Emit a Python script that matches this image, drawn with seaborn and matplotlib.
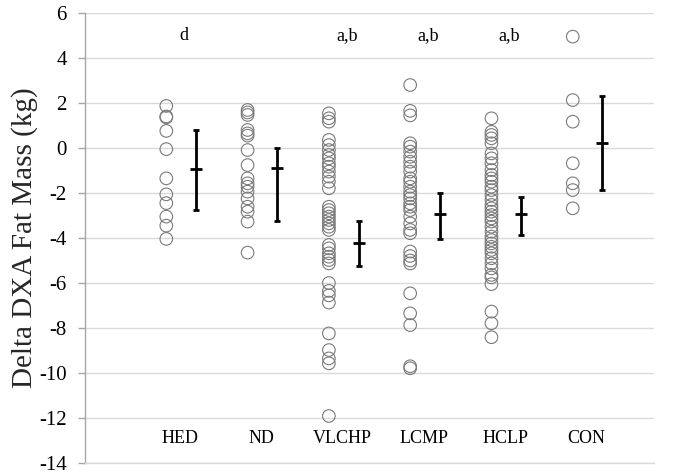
import numpy as np
import pandas as pd
import matplotlib
matplotlib.use("Agg")
import matplotlib.pyplot as plt
import seaborn as sns

# ---- data ----
groups = ["HED", "ND", "VLCHP", "LCMP", "HCLP", "CON"]
letters = ["d", "", "a,b", "a,b", "a,b", ""]

hed = [1.87, 1.4, 1.36, 0.76, -0.05, -1.35, -2.06, -2.45, -3.05, -3.45, -4.04]
nd = [1.69, 1.58, 1.47, 0.8, 0.65, 0.55, -0.09, -0.76, -1.35, -1.57, -1.72,
      -1.94, -2.24, -2.61, -2.83, -3.27, -4.65]
vlchp = [1.54, 1.32, 1.17, 0.36, 0.13, -0.09, -0.31, -0.46, -0.68, -0.83, -1.05,
         -1.27, -1.5, -1.79, -2.61, -2.76, -2.9, -3.05, -3.2, -3.35, -3.5, -3.64,
         -4.31, -4.46, -4.68, -4.83, -4.98, -5.13, -6.0, -6.35, -6.55, -6.87,
         -8.24, -8.98, -9.35, -9.57, -11.91]
lcmp = [2.8, 1.65, 1.45, 0.21, 0.06, -0.16, -0.39, -0.61, -0.83, -1.05, -1.35,
        -1.5, -1.72, -1.94, -2.09, -2.24, -2.46, -2.61, -2.76, -3.05, -3.35,
        -3.64, -3.79, -4.6, -4.8, -5.0, -5.13, -6.46, -7.35, -7.87, -9.7, -9.79]
hclp = [1.32, 0.72, 0.58, 0.43, 0.21, -0.24, -0.46, -0.68, -0.98, -1.2, -1.35,
        -1.5, -1.72, -1.87, -2.09, -2.31, -2.53, -2.68, -2.83, -2.98, -3.13,
        -3.27, -3.5, -3.72, -3.94, -4.09, -4.24, -4.39, -4.53, -4.68, -4.9,
        -5.13, -5.35, -5.64, -5.75, -6.05, -7.27, -7.79, -8.41]
con = [4.95, 2.13, 1.17, -0.68, -1.57, -1.87, -2.68]

means = [-0.95, -0.87, -4.24, -2.93, -2.93, 0.24]
upper = [0.8, 0.01, -3.23, -1.98, -2.16, 2.31]
lower = [-2.76, -3.24, -5.23, -4.06, -3.87, -1.87]

y_ticks = list(range(-14, 7, 2))
y_label = "Delta DXA Fat Mass (kg)"

# ---- build long table ----
series = [hed, nd, vlchp, lcmp, hclp, con]
rows = []
for i, vals in enumerate(series):
    for v in vals:
        rows.append({"pos": i + 1, "value": v})
df = pd.DataFrame(rows)

sns.set_theme(style="white")
plt.rcParams["font.family"] = ["Liberation Serif", "DejaVu Serif"]
plt.rcParams["axes.unicode_minus"] = False

fig = plt.figure(figsize=(6.85, 4.76), dpi=100)
ax = fig.add_axes([0.1241, 0.0273, 0.8307, 0.9454])

sns.scatterplot(data=df, x="pos", y="value", ax=ax, marker="o", s=82,
                facecolor="none", edgecolor="#7a7a7a", linewidth=0.8,
                legend=False, zorder=3)

xpos = np.arange(1, len(groups) + 1)
m = np.array(means)
yerr = np.vstack([m - np.array(lower), np.array(upper) - m])
ax.errorbar(xpos + 0.365, m, yerr=yerr, fmt="_", color="black",
            ecolor="black", elinewidth=2.0, capsize=2.5, capthick=2.0,
            markersize=8, markeredgewidth=2.0, zorder=4)

# category labels inside the plot
for i, g in enumerate(groups):
    ax.text(i + 1.17, -12.9, g, ha="center", va="center", fontsize=13,
            color="black")
for i, t in enumerate(letters):
    if t:
        ax.text(i + 1.22, 4.98, t, ha="center", va="center", fontsize=13,
                color="black")

ax.set_xlim(0, 7)
ax.set_ylim(-14, 6)
ax.set_yticks(y_ticks)
ax.set_yticklabels([str(t) for t in y_ticks], fontsize=15)
ax.set_xticks([])
ax.set_xlabel("")
ax.set_ylabel(y_label, fontsize=21)
ax.yaxis.set_label_coords(-0.083, 0.5)

ax.yaxis.grid(True, color="#d9d9d9", linewidth=1.0)
ax.set_axisbelow(True)
for s in ["top", "right"]:
    ax.spines[s].set_visible(False)
ax.spines["left"].set_color("#a6a6a6")
ax.spines["left"].set_linewidth(1.0)
ax.spines["bottom"].set_color("#d9d9d9")
ax.spines["bottom"].set_linewidth(1.0)
ax.tick_params(axis="y", left=True, length=5, width=1.0, color="#a6a6a6",
               pad=8, labelcolor="black")

fig.savefig("out.png", dpi=100)
